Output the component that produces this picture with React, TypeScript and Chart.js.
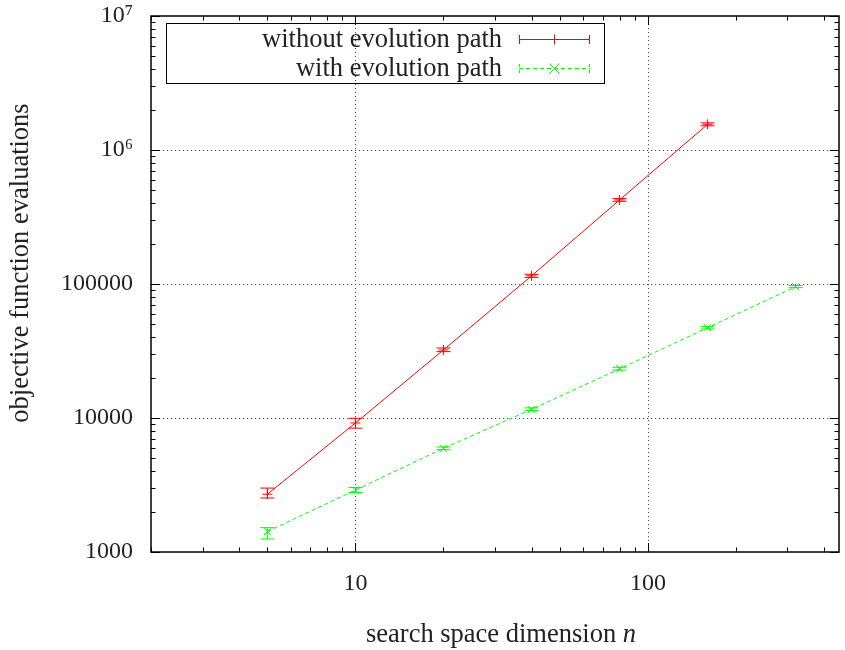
import React, { useEffect, useRef } from 'react';
import { Chart, registerables } from 'chart.js';
Chart.register(...registerables);

const FONT = '"Liberation Serif", "DejaVu Serif", serif';
const TEXT = '#222222';
const TEXT_SIZE = 26.5;

const redLabel = 'without evolution path';
const greenLabel = 'with evolution path';
const xTitle = 'search space dimension ';
const xTitleVar = 'n';
const yTitle = 'objective function evaluations';

const redN = [5, 10, 20, 40, 80, 160];
const redMean = [2700, 9180, 32200, 115000, 424000, 1555000];
const redLow = [2530, 8400, 31300, 112000, 414000, 1515000];
const redHigh = [3000, 9950, 33300, 118000, 434000, 1595000];

const greenN = [5, 10, 20, 40, 80, 160, 320];
const greenMean = [1420, 2900, 5940, 11600, 23300, 47200, 95500];
const greenLow = [1250, 2780, 5800, 11350, 22800, 46200, 94000];
const greenHigh = [1520, 3030, 6080, 11900, 23900, 48300, 97500];

const xMin = 2;
const xMax = 450;
const yMin = 1000;
const yMax = 10000000;

const yTickLabels: Record<string, string> = {
  '1000': '1000',
  '10000': '10000',
  '100000': '100000',
  '1000000': '10\u2076',
  '10000000': '10\u2077',
};
const xTickLabels: Record<string, string> = { '10': '10', '100': '100' };

const RED = '#ff0000';
const GREEN = '#00ff00';

function isDecade(v: number) {
  const l = Math.log10(v);
  return Math.abs(l - Math.round(l)) < 1e-6;
}

function logTicks(min: number, max: number) {
  const out: number[] = [];
  for (let e = Math.floor(Math.log10(min)); e <= Math.ceil(Math.log10(max)); e++) {
    for (let m = 1; m <= 9; m++) {
      const v = m * Math.pow(10, e);
      if (v >= min - 1e-9 && v <= max + 1e-9) out.push(v);
    }
  }
  return out;
}

const App = () => {
  const ref = useRef<HTMLCanvasElement>(null);
  useEffect(() => {
    document.body.style.margin = '0';
    const canvas = ref.current!;

    const drawMarker = (ctx: CanvasRenderingContext2D, kind: string, x: number, y: number, r: number) => {
      ctx.beginPath();
      if (kind === 'plus') {
        ctx.moveTo(x - r, y); ctx.lineTo(x + r, y);
        ctx.moveTo(x, y - r); ctx.lineTo(x, y + r);
      } else {
        ctx.moveTo(x - r, y - r); ctx.lineTo(x + r, y + r);
        ctx.moveTo(x - r, y + r); ctx.lineTo(x + r, y - r);
      }
      ctx.stroke();
    };

    const plugin = {
      id: 'gnuplotFrame',
      beforeDatasetsDraw(chart: any) {
        const { ctx, chartArea: a, scales } = chart;
        ctx.save();
        ctx.strokeStyle = '#555555';
        ctx.lineWidth = 1;
        ctx.setLineDash([1.2, 2.8]);
        logTicks(xMin, xMax).filter(v => isDecade(v) && v > xMin && v < xMax).forEach(v => {
          const px = Math.round(scales.x.getPixelForValue(v)) + 0.5;
          ctx.beginPath(); ctx.moveTo(px, a.top); ctx.lineTo(px, a.bottom); ctx.stroke();
        });
        logTicks(yMin, yMax).filter(v => isDecade(v) && v > yMin && v < yMax).forEach(v => {
          const py = Math.round(scales.y.getPixelForValue(v)) + 0.5;
          ctx.beginPath(); ctx.moveTo(a.left, py); ctx.lineTo(a.right, py); ctx.stroke();
        });
        ctx.restore();
      },
      afterDatasetsDraw(chart: any) {
        const { ctx, chartArea: a, scales } = chart;
        ctx.save();
        ctx.setLineDash([]);
        // error bars
        const bars = (ns: number[], lo: number[], hi: number[], color: string) => {
          ctx.strokeStyle = color;
          ctx.lineWidth = 1;
          ns.forEach((n, i) => {
            const px = scales.x.getPixelForValue(n);
            const p1 = scales.y.getPixelForValue(lo[i]);
            const p2 = scales.y.getPixelForValue(hi[i]);
            ctx.beginPath();
            ctx.moveTo(px, p1); ctx.lineTo(px, p2);
            ctx.moveTo(px - 7, p1); ctx.lineTo(px + 7, p1);
            ctx.moveTo(px - 7, p2); ctx.lineTo(px + 7, p2);
            ctx.stroke();
          });
        };
        bars(redN, redLow, redHigh, RED);
        bars(greenN, greenLow, greenHigh, GREEN);

        // border
        ctx.strokeStyle = '#000';
        ctx.lineWidth = 1.5;
        ctx.strokeRect(a.left, a.top, a.right - a.left, a.bottom - a.top);

        // ticks (inward, mirrored)
        ctx.lineWidth = 1;
        logTicks(xMin, xMax).forEach(v => {
          const px = Math.round(scales.x.getPixelForValue(v)) + 0.5;
          const len = isDecade(v) ? 9 : 4.5;
          ctx.beginPath();
          ctx.moveTo(px, a.bottom); ctx.lineTo(px, a.bottom - len);
          ctx.moveTo(px, a.top); ctx.lineTo(px, a.top + len);
          ctx.stroke();
        });
        logTicks(yMin, yMax).forEach(v => {
          const py = Math.round(scales.y.getPixelForValue(v)) + 0.5;
          const len = isDecade(v) ? 9 : 4.5;
          ctx.beginPath();
          ctx.moveTo(a.left, py); ctx.lineTo(a.left + len, py);
          ctx.moveTo(a.right, py); ctx.lineTo(a.right - len, py);
          ctx.stroke();
        });

        // legend
        ctx.lineWidth = 1;
        ctx.strokeStyle = '#000';
        ctx.strokeRect(166.5, 23.5, 438, 60);
        ctx.font = `${TEXT_SIZE}px ${FONT}`;
        ctx.fillStyle = TEXT;
        ctx.textAlign = 'right';
        ctx.textBaseline = 'middle';
        ctx.fillText(redLabel, 502, 40);
        ctx.fillText(greenLabel, 502, 69);
        const sample = (y: number, color: string, dashed: boolean, marker: string) => {
          ctx.fillStyle = color;
          if (dashed) {
            for (let x = 519; x < 590; x += 7) ctx.fillRect(x, y, Math.min(4, 590 - x), 1);
            ctx.fillRect(519, y - 4, 1, 3); ctx.fillRect(519, y + 2, 1, 3);
            ctx.fillRect(589, y - 4, 1, 3); ctx.fillRect(589, y + 2, 1, 3);
          } else {
            ctx.fillRect(519, y, 71, 1);
            ctx.fillRect(519, y - 4, 1, 9);
            ctx.fillRect(589, y - 4, 1, 9);
          }
          ctx.strokeStyle = color;
          ctx.lineWidth = 1;
          ctx.setLineDash([]);
          drawMarker(ctx, marker, 554.5, y + 0.5, 5);
        };
        sample(39, RED, false, 'plus');
        sample(68, GREEN, true, 'cross');

        // axis titles
        ctx.fillStyle = TEXT;
        ctx.textBaseline = 'middle';
        ctx.textAlign = 'left';
        ctx.font = `${TEXT_SIZE}px ${FONT}`;
        const w1 = ctx.measureText(xTitle).width;
        ctx.font = `italic ${TEXT_SIZE}px ${FONT}`;
        const w2 = ctx.measureText(xTitleVar).width;
        const sx = 501 - (w1 + w2) / 2;
        ctx.font = `${TEXT_SIZE}px ${FONT}`;
        ctx.fillText(xTitle, sx, 635);
        ctx.font = `italic ${TEXT_SIZE}px ${FONT}`;
        ctx.fillText(xTitleVar, sx + w1, 635);

        ctx.translate(21, 263);
        ctx.rotate(-Math.PI / 2);
        ctx.textAlign = 'center';
        ctx.font = `${TEXT_SIZE}px ${FONT}`;
        ctx.fillText(yTitle, 0, 0);
        ctx.restore();
      },
    };

    const chart = new Chart(canvas, {
      type: 'line',
      data: {
        datasets: [
          {
            label: redLabel,
            data: redN.map((n, i) => ({ x: n, y: redMean[i] })),
            borderColor: RED,
            backgroundColor: RED,
            borderWidth: 1,
            pointStyle: 'cross',
            pointRadius: 5,
            pointBorderWidth: 1,
            pointBorderColor: RED,
          },
          {
            label: greenLabel,
            data: greenN.map((n, i) => ({ x: n, y: greenMean[i] })),
            borderColor: GREEN,
            backgroundColor: GREEN,
            borderWidth: 1,
            borderDash: [4, 3],
            pointStyle: 'crossRot',
            pointRadius: 5,
            pointBorderWidth: 1,
            pointBorderColor: GREEN,
          },
        ],
      },
      options: {
        responsive: false,
        animation: false,
        layout: { padding: { top: 16, right: 6, left: 0, bottom: 0 } },
        plugins: { legend: { display: false }, tooltip: { enabled: false } },
        scales: {
          x: {
            type: 'logarithmic',
            min: xMin,
            max: xMax,
            border: { display: false },
            grid: { display: false, drawTicks: false },
            afterFit: (s: any) => { s.height = 98; s.paddingLeft = 0; s.paddingRight = 0; },
            ticks: {
              autoSkip: false,
              maxRotation: 0,
              padding: 17,
              color: TEXT,
              font: { family: FONT, size: 24 },
              callback: (v: any) => isDecade(Number(v)) ? (xTickLabels[String(Math.round(Number(v)))] || '') : '',
            },
          },
          y: {
            type: 'logarithmic',
            min: yMin,
            max: yMax,
            border: { display: false },
            grid: { display: false, drawTicks: false },
            afterFit: (s: any) => { s.width = 151; s.paddingTop = 0; s.paddingBottom = 0; },
            ticks: {
              autoSkip: false,
              padding: 18,
              color: TEXT,
              font: { family: FONT, size: 24 },
              callback: (v: any) => isDecade(Number(v)) ? (yTickLabels[String(Math.round(Number(v)))] || '') : '',
            },
          },
        },
      },
      plugins: [plugin],
    } as any);
    return () => chart.destroy();
  }, []);
  return (
    <div style={{ width: 845, height: 650 }}>
      <canvas ref={ref} width={845} height={650} />
    </div>
  );
};

export default App;
